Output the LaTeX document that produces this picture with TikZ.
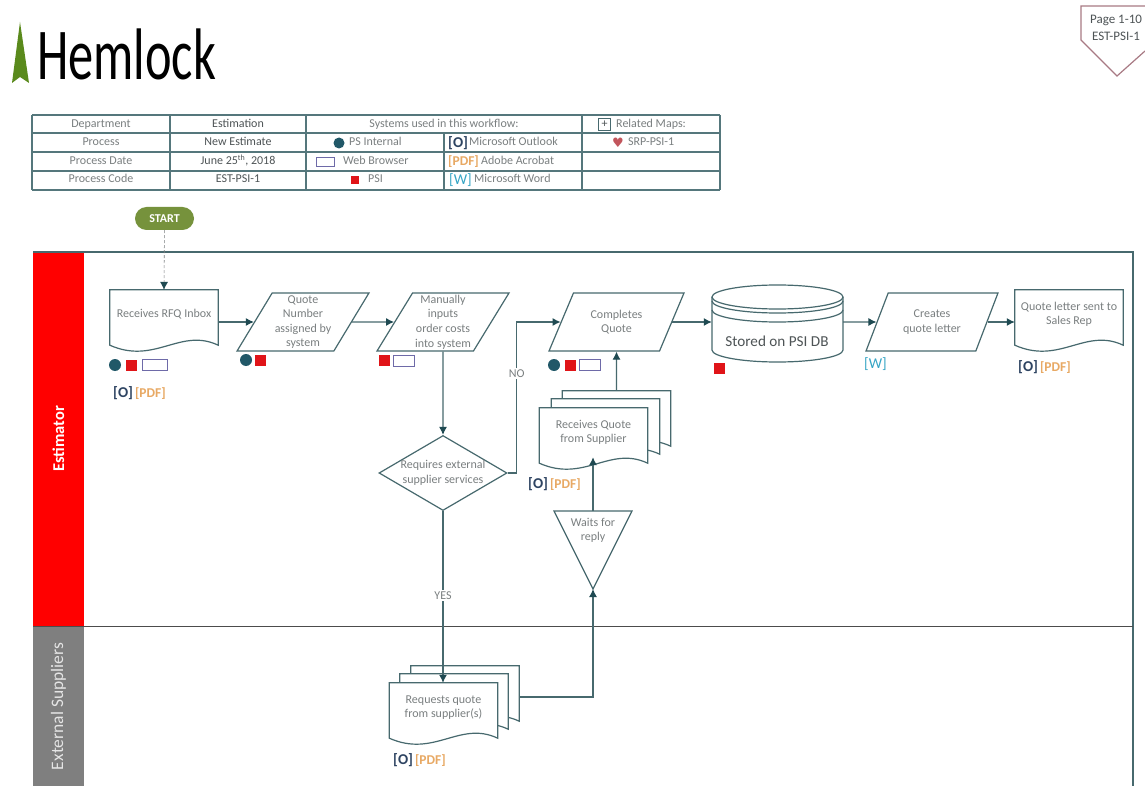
\documentclass[tikz,border=0pt]{standalone}
\usepackage{fontspec}
\setmainfont{Carlito}
\newfontfamily\symfont{DejaVu Sans}
\usetikzlibrary{calc}
\usetikzlibrary{positioning}
\usetikzlibrary{shapes.geometric}
\usetikzlibrary{arrows.meta}

\definecolor{lineteal}{HTML}{47696E}
\definecolor{tipteal}{HTML}{1F4A52}
\definecolor{tablegrid}{HTML}{55777C}
\definecolor{softtext}{HTML}{7A7F80}
\definecolor{darktext}{HTML}{4E5456}
\definecolor{dotteal}{HTML}{215868}
\definecolor{redsq}{HTML}{E01418}
\definecolor{webblue}{HTML}{6E6AA8}
\definecolor{tagdark}{HTML}{2E4462}
\definecolor{tagorange}{HTML}{E8A964}
\definecolor{tagcyan}{HTML}{35A5C5}
\definecolor{startgreen}{HTML}{76923C}
\definecolor{treegreen}{HTML}{5A8A1C}
\definecolor{badge}{HTML}{A87A84}
\definecolor{lanegray}{HTML}{7F7F7F}

\newcommand{\tago}{{\fontsize{15}{15}\selectfont\bfseries\color{tagdark}[O]}}
\newcommand{\tagpdf}{{\fontsize{13.5}{14}\selectfont\bfseries\color{tagorange}[PDF]}}
\newcommand{\tagw}{{\fontsize{15}{15}\selectfont\color{tagcyan}[W]}}

% name, position, text
\newcommand{\docnode}[3]{%
	\node[docbox] (#1) at (#2) {};
	\draw[shapeline,fill=white] (#1.north west) -- (#1.north east) -- ($(#1.south east)+(0,6)$)
		.. controls ($(#1.south east)+(-38,-12)$) and ($(#1.south west)+(45,26)$) .. ($(#1.south west)+(0,6)$) -- cycle;
	\node[flowtext] (#1text) at (#1) {#3};
}

\begin{document}
\begin{tikzpicture}[x=1pt,y=-1pt,font=\fontsize{12}{14.6}\selectfont]
		\tikzset{shapeline/.style = {draw=lineteal,line width=1.2pt}}
		\tikzset{flowtext/.style = {text=softtext,align=center,inner sep=0pt}}
		\tikzset{docbox/.style = {shape=rectangle,draw=none,inner sep=0pt,minimum width=108pt,minimum height=49pt}}
		\tikzset{para/.style = {shape=trapezium,trapezium left angle=59,trapezium right angle=121,trapezium stretches=true,shapeline,flowtext,minimum height=58pt}}
		\tikzset{edge/.style = {draw=lineteal,line width=1.2pt,-{Latex[length=8pt,width=8pt,color=tipteal]}}}
		\tikzset{lane/.style = {shape=rectangle,rotate=90,minimum height=51pt,inner sep=0pt,text=white,font=\fontsize{17.5}{18}\selectfont}}
		\tikzset{grid/.style = {draw=tablegrid,line width=1.1pt}}
		\tikzset{cell/.style = {text=softtext,inner sep=0pt,text height=8.5pt,text depth=2.5pt}}
		\tikzset{dot/.style = {shape=circle,fill=dotteal,inner sep=0pt,minimum size=#1}}
		\tikzset{redbox/.style = {shape=rectangle,fill=redsq,inner sep=0pt,minimum size=#1}}
		\tikzset{webbox/.style = {shape=rectangle,draw=webblue,line width=1pt,fill=white,inner sep=0pt,minimum width=#1,minimum height=11pt}}
		\tikzset{tag/.style = {inner sep=0pt,anchor=west}}

		\useasboundingbox (0,0) rectangle (1145,786);
		\fill[white] (0,0) rectangle (1145,786);

		% logo
		\fill[treegreen] (20,22) -- (29,83) -- (20,77) -- (12,83) -- cycle;
		\node[anchor=base west,inner sep=0pt] (logo) at (37,80) {\scalebox{0.69}[1]{\fontsize{73}{73}\selectfont Hemlock}};

		% page badge
		\draw[draw=badge,line width=1.2pt] (1145,6) -- (1081,6) -- (1081,40) -- (1117,76) -- (1145,51);
		\node[text=darktext,align=center,inner sep=0pt,font=\fontsize{13}{17}\selectfont] (badge) at (1116,27.5) {Page 1-10\\EST-PSI-1};

		% table
		\foreach \y in {115,133,152,171,190}
			\draw[grid] (32,\y) -- (720,\y);
		\foreach \x in {32,170,306,582,720}
			\draw[grid] (\x,115) -- (\x,190);
		\draw[grid] (444,133) -- (444,190);
		\foreach \y/\a/\b in {125/Department/Estimation,143/Process/New Estimate,162/Process Date/{June 25\textsuperscript{th}, 2018},180/Process Code/EST-PSI-1}{
			\node[cell] (lab\y) at (101,\y) {\a};
			\node[cell,text=darktext] (val\y) at (238,\y) {\b};
		}
		\node[cell] (systems) at (444,125) {Systems used in this workflow:};
		\node[draw=lineteal,line width=.8pt,minimum size=12pt,inner sep=0pt,text=darktext] (plus) at (604.5,124.5) {+};
		\node[cell,anchor=west] (related) at (616,125) {Related Maps:};
		\node[dot=11pt] (legdot) at (339,143) {};
		\node[cell,anchor=west] (legps) at (349,143) {PS Internal};
		\node[webbox=18pt,minimum height=9pt] (legweb) at (325,162.5) {};
		\node[cell,anchor=west] (legbrowser) at (343,162) {Web Browser};
		\node[redbox=8pt] (legred) at (355,180) {};
		\node[cell,anchor=west] (legpsi) at (368,180) {PSI};
		\node[tag] (lego) at (448,143) {\tago};
		\node[cell,anchor=west] (legoutlook) at (469,143) {Microsoft Outlook};
		\node[tag] (legpdf) at (448,162) {\tagpdf};
		\node[cell,anchor=west] (legacrobat) at (481,162) {Adobe Acrobat};
		\node[tag] (legw) at (449,180) {\tagw};
		\node[cell,anchor=west] (legword) at (474,180) {Microsoft Word};
		\node[inner sep=0pt,text=badge!70!red,font=\symfont\fontsize{13}{13}\selectfont] (heart) at (618,143) {♥};
		\node[cell,anchor=west] (legsrp) at (628,143) {SRP-PSI-1};

		% lanes
		\node[lane,fill=red,minimum width=374pt,font=\bfseries\fontsize{16.5}{18}\selectfont] (estimator) at (58.5,439) {Estimator};
		\node[lane,fill=lanegray,minimum width=159pt,text=white!90!black] (suppliers) at (58.5,706.5) {External Suppliers};
		\draw[draw=lineteal,line width=1.2pt] (84,252) -- (33,252);
		\draw[draw=lineteal,line width=1.2pt] (84,252) -- (1133,252) -- (1133,786);
		\draw[draw=black!70,line width=1.4pt] (33,626.5) -- (1133,626.5);

		% vertices
		\node[shape=rectangle,rounded corners=11.5pt,fill=startgreen,text=white,minimum width=59pt,minimum height=23pt,inner sep=0pt,font=\bfseries\fontsize{12}{12}\selectfont] (start) at (164.5,218.5) {START};

		\docnode{rfq}{164,314.5}{Receives RFQ Inbox}
		\node[para,minimum width=132pt] (quote) at (303,322) {Quote\\Number\\assigned by\\system};
		\node[para,minimum width=132pt] (inputs) at (443,322) {Manually\\inputs\\order costs\\into system};
		\node[para,minimum width=135pt] (complete) at (616.5,322) {Completes\\Quote};

		\node[shape=rectangle,inner sep=0pt,minimum width=131pt,minimum height=77pt] (db) at (777.5,322) {};
		\draw[shapeline,fill=white] (712,297) -- (712,350) arc[start angle=180,end angle=360,x radius=65.5pt,y radius=12pt] -- (843,297);
		\draw[shapeline,fill=white] (777.5,297) ellipse [x radius=65.5pt,y radius=12pt];
		\draw[shapeline] (712,301) arc[start angle=180,end angle=360,x radius=65.5pt,y radius=12pt];
		\draw[shapeline] (712,310) arc[start angle=180,end angle=360,x radius=65.5pt,y radius=12pt];
		\node[flowtext,text=darktext,font=\fontsize{15.2}{16}\selectfont] (dbtext) at (777,341) {Stored on PSI DB};

		\node[para,minimum width=133pt] (letter) at (932,322) {Creates\\quote letter};
		\docnode{sent}{1069,314.5}{Quote letter sent to\\Sales Rep}

		\docnode{recvc}{616.5,415.5}{}
		\docnode{recvb}{605.5,423.5}{}
		\docnode{recv}{593.5,432.5}{Receives Quote\\from Supplier}

		\node[shape=diamond,aspect=1.7,shapeline,flowtext,inner sep=-4pt,minimum width=128pt,minimum height=75pt] (decide) at (443,473) {Requires external\\supplier services};

		\node[flowtext] (waits) at (593,530.5) {Waits for\\reply};
		\coordinate (waitstop) at (593,511);
		\coordinate (waitstip) at (593,589);
		\draw[shapeline] (554,511) -- (632,511) -- (waitstip) -- cycle;

		\docnode{reqc}{465,690.5}{}
		\docnode{reqb}{454,698.5}{}
		\docnode{req}{443.5,707.5}{Requests quote\\from supplier(s)}
		\coordinate (reqout) at (519,697);

		% icons
		\foreach \x/\y in {115/365,246/360,554/365}
			\node[dot=12pt] (dot\x) at (\x,\y) {};
		\foreach \x/\y in {131/365,260/360,384/360,570/365,719/368}
			\node[redbox=11pt] (red\x) at (\x,\y) {};
		\node[webbox=25pt] (web1) at (154.5,365) {};
		\node[webbox=21pt] (web2) at (403.5,360.5) {};
		\node[webbox=21pt] (web3) at (589.5,365) {};

		% tags
		\node[tag] (rfqtag) at (113,393) {\tago\,\tagpdf};
		\node[tag] (recvtag) at (528,484) {\tago\,\tagpdf};
		\node[tag] (sendtag) at (1018,367) {\tago\,\tagpdf};
		\node[tag] (reqtag) at (393,760) {\tago\,\tagpdf};
		\node[tag] (lettertag) at (864,364) {\tagw};

		%edges
		\draw[edge,draw=softtext,densely dashed,line width=.6pt] (start) to (rfq.north);
		\draw[edge] (rfq.east |- quote.west) to (quote.west);
		\draw[edge] (quote.east) to (inputs.west);
		\draw[edge] (inputs.south) to (decide.north);
		\draw[edge] (complete.east) to (complete.east -| db.west);
		\draw[edge] (db.east) to (letter.west);
		\draw[edge] (letter.east) to (letter.east -| sent.west);
		\draw[edge] (recvc.north) to (complete.south);
		\draw[edge] (waitstop) to (waitstop |- recv.south);
		\draw[edge] (decide.east) -- ++(9,0) |- node[pos=.33,fill=white,text=softtext,inner sep=1.5pt]{NO} (complete.west);
		\draw[edge] (decide.south) to node[pos=.49,fill=white,text=softtext,inner sep=1.5pt]{YES} (decide.south |- req.north);
		\draw[edge] (reqout) -| (waitstip);

\end{tikzpicture}
\end{document}
